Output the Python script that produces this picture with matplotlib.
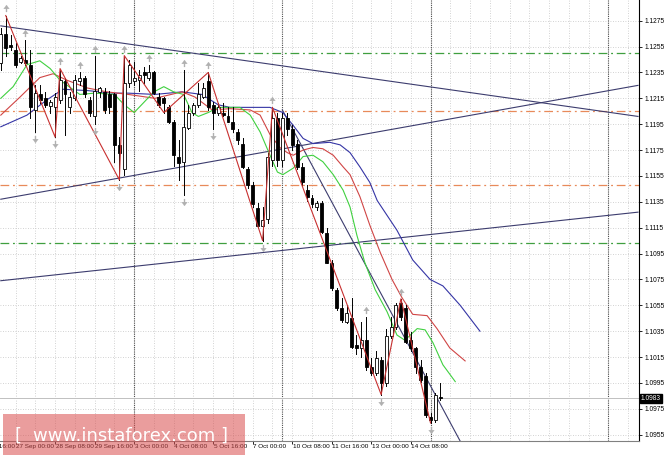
import matplotlib
matplotlib.use('Agg')
import matplotlib.pyplot as plt
from matplotlib.path import Path
from matplotlib.patches import Rectangle
from matplotlib.transforms import blended_transform_factory

# EURUSD H4 candles (bar 0 = leftmost visible bar)
opens = [1.1242, 1.1265, 1.1256, 1.1252, 1.1243, 1.1245, 1.1241, 1.1206, 1.1218, 1.1215,
         1.1209, 1.1208, 1.1214, 1.1228, 1.1208, 1.1215, 1.1228, 1.1231, 1.1214, 1.1201,
         1.1220, 1.1220, 1.1218, 1.1218, 1.1179, 1.1160, 1.1227, 1.1228, 1.1229, 1.1235,
         1.1231, 1.1235, 1.1216, 1.1215, 1.1208, 1.1197, 1.1170, 1.1166, 1.1192, 1.1204,
         1.1210, 1.1216, 1.1228, 1.1210, 1.1204, 1.1204, 1.1201, 1.1197, 1.1189, 1.1180,
         1.1160, 1.1148, 1.1130, 1.1116, 1.1122, 1.1167, 1.1200, 1.1167, 1.1200, 1.1191,
         1.1180, 1.1162, 1.1144, 1.1138, 1.1131, 1.1134, 1.1111, 1.1088, 1.1067, 1.1053,
         1.1042, 1.1045, 1.1024, 1.1022, 1.1028, 1.1007, 1.1003, 1.1013, 1.0995, 1.1031,
         1.1038, 1.1057, 1.1053, 1.1028, 1.1022, 1.1007, 1.1000, 1.0969, 1.0966, 1.0984]
highs = [1.1269, 1.1279, 1.1264, 1.1258, 1.1248, 1.1260, 1.1252, 1.1225, 1.1225, 1.1220,
         1.1214, 1.1219, 1.1238, 1.1231, 1.1220, 1.1233, 1.1235, 1.1232, 1.1216, 1.1248,
         1.1224, 1.1223, 1.1221, 1.1219, 1.1185, 1.1248, 1.1245, 1.1243, 1.1237, 1.1239,
         1.1241, 1.1236, 1.1219, 1.1216, 1.1210, 1.1198, 1.1183, 1.1237, 1.1210, 1.1211,
         1.1227, 1.1227, 1.1235, 1.1212, 1.1211, 1.1211, 1.1208, 1.1208, 1.1191, 1.1184,
         1.1162, 1.1150, 1.1134, 1.1131, 1.1173, 1.1208, 1.1204, 1.1204, 1.1204, 1.1194,
         1.1183, 1.1165, 1.1148, 1.1140, 1.1136, 1.1136, 1.1115, 1.1090, 1.1068, 1.1061,
         1.1055, 1.1061, 1.1032, 1.1042, 1.1046, 1.1014, 1.1020, 1.1015, 1.1037, 1.1046,
         1.1057, 1.1060, 1.1055, 1.1034, 1.1023, 1.1013, 1.1003, 1.0972, 1.0987, 1.0995]
lows = [1.1237, 1.1248, 1.1252, 1.1239, 1.1242, 1.1241, 1.1200, 1.1189, 1.1211, 1.1208,
        1.1204, 1.1185, 1.1211, 1.1187, 1.1204, 1.1214, 1.1225, 1.1216, 1.1201, 1.1195,
        1.1216, 1.1204, 1.1204, 1.1166, 1.1152, 1.1156, 1.1224, 1.1225, 1.1221, 1.1227,
        1.1229, 1.1218, 1.1208, 1.1204, 1.1196, 1.1163, 1.1152, 1.1140, 1.1191, 1.1202,
        1.1208, 1.1215, 1.1206, 1.1191, 1.1202, 1.1201, 1.1197, 1.1189, 1.1180, 1.1161,
        1.1146, 1.1131, 1.1115, 1.1105, 1.1119, 1.1163, 1.1163, 1.1163, 1.1187, 1.1175,
        1.1160, 1.1147, 1.1136, 1.1131, 1.1129, 1.1111, 1.1088, 1.1067, 1.1051, 1.1042,
        1.1041, 1.1022, 1.1017, 1.1015, 1.1005, 1.1001, 1.1001, 1.0986, 1.0993, 1.1030,
        1.1037, 1.1044, 1.1026, 1.1020, 1.1003, 1.0996, 1.0969, 1.0964, 1.0965, 1.0982]
closes = [1.1265, 1.1254, 1.1255, 1.1241, 1.1246, 1.1242, 1.1208, 1.1219, 1.1214, 1.1210,
          1.1212, 1.1216, 1.1229, 1.1218, 1.1216, 1.1229, 1.1231, 1.1218, 1.1204, 1.1221,
          1.1223, 1.1206, 1.1208, 1.1179, 1.1173, 1.1227, 1.1241, 1.1231, 1.1233, 1.1233,
          1.1235, 1.1219, 1.1210, 1.1211, 1.1197, 1.1171, 1.1165, 1.1193, 1.1204, 1.1210,
          1.1218, 1.1223, 1.1208, 1.1204, 1.1208, 1.1202, 1.1197, 1.1191, 1.1183, 1.1162,
          1.1148, 1.1133, 1.1116, 1.1121, 1.1170, 1.1200, 1.1167, 1.1200, 1.1191, 1.1179,
          1.1162, 1.1150, 1.1139, 1.1133, 1.1134, 1.1112, 1.1088, 1.1068, 1.1053, 1.1044,
          1.1049, 1.1023, 1.1022, 1.1028, 1.1007, 1.1003, 1.1014, 1.0995, 1.1031, 1.1038,
          1.1055, 1.1046, 1.1027, 1.1022, 1.1007, 1.0997, 1.0970, 1.0966, 1.0986, 1.0983]

# alligator lines (bar position, price)
lips_bar = [0, 2.5, 5.3, 7.9, 10, 12, 16, 19, 23, 25, 27, 29, 31, 33, 35, 37, 38.7, 40, 42, 44,
            46.4, 48.4, 50.5, 52.5, 54.5, 56, 57.1, 59.2, 61.2, 63.2, 65.2, 67.3, 69.3, 70.7,
            72.1, 73.7, 75.8, 78.2, 80.2, 81.8, 84.3, 85.9, 87.5, 89.5, 92]
lips_val = [1.1215, 1.1224, 1.1241, 1.1244, 1.1238, 1.1229, 1.1218, 1.1219, 1.1218, 1.1210,
            1.1204, 1.1212, 1.1220, 1.1224, 1.1220, 1.1218, 1.1204, 1.1201, 1.1204, 1.1208,
            1.1208, 1.1208, 1.1202, 1.1189, 1.1171, 1.1158, 1.1156, 1.1161, 1.1170, 1.1171,
            1.1166, 1.1156, 1.1144, 1.1131, 1.1109, 1.1088, 1.1067, 1.1050, 1.1032, 1.1028,
            1.1037, 1.1036, 1.1026, 1.1009, 1.0996]
teeth_bar = [0, 3.9, 7.9, 10.6, 13.4, 17.5, 21.5, 25.8, 31.2, 36.7, 39.3, 42.8, 46.4, 50.5,
             52.5, 54.5, 56.5, 58, 59.2, 61.2, 63.2, 65.2, 67.3, 69.3, 70.7, 72.7, 74.7, 76.8,
             79.2, 81.2, 83.4, 86.3, 88.3, 90.9, 94]
teeth_val = [1.1202, 1.1216, 1.1231, 1.1234, 1.1229, 1.1223, 1.1220, 1.1218, 1.1215, 1.1220,
             1.1216, 1.1206, 1.1207, 1.1206, 1.1202, 1.1187, 1.1177, 1.1173, 1.1171, 1.1175,
             1.1177, 1.1176, 1.1171, 1.1162, 1.1156, 1.1139, 1.1117, 1.1096, 1.1075, 1.1061,
             1.1048, 1.1047, 1.1037, 1.1022, 1.1012]
jaw_bar = [0, 5.3, 9.4, 12.6, 17.5, 22.7, 25.8, 31.2, 36.7, 40.7, 44, 46.4, 50.5, 54.5, 57.1,
           59.2, 61.2, 63.2, 66.6, 68.7, 70.7, 72.7, 74.7, 76.2, 80.2, 83.4, 86.9, 89.5, 93, 97]
jaw_val = [1.1193, 1.1202, 1.1214, 1.1222, 1.1221, 1.1219, 1.1219, 1.1218, 1.1220, 1.1218,
           1.1210, 1.1208, 1.1208, 1.1208, 1.1204, 1.1194, 1.1184, 1.1180, 1.1181, 1.1179,
           1.1173, 1.1162, 1.1150, 1.1136, 1.1113, 1.1090, 1.1075, 1.1070, 1.1055, 1.1035]

# zigzag turning bars (high, low, high, ...)
zigzag_bars = [1, 11, 12, 24, 25, 33, 42, 53, 55, 77, 81, 87]
fractal_up = [1, 5, 12, 16, 19, 25, 30, 37, 42, 55, 74, 81]
fractal_dn = [7, 11, 19, 24, 37, 43, 53, 77, 87]

# trend lines: (bar, price) -> (bar, price)
trend_lines = [((0, 1.1271), (129, 1.1201)),
               ((0, 1.1137), (129, 1.1225)),
               ((0, 1.1074), (129, 1.1127)),
               ((57, 1.1206), (93, 1.0950))]
levels = [1.1250, 1.12055, 1.1148, 1.1103]
level_colors = ['#3f9f3f', '#e88a5a', '#e88a5a', '#3f9f3f']

price_ticks = [1.0955, 1.0975, 1.0995, 1.1015, 1.1035, 1.1055, 1.1075, 1.1095, 1.1115,
               1.1135, 1.1155, 1.1175, 1.1195, 1.1215, 1.1235, 1.1255, 1.1275]
time_labels = ['23 Sep 16:00', '27 Sep 00:00', '28 Sep 08:00', '29 Sep 16:00', '3 Oct 00:00',
               '4 Oct 08:00', '5 Oct 16:00', '7 Oct 00:00', '10 Oct 08:00', '11 Oct 16:00',
               '13 Oct 00:00', '14 Oct 08:00']
time_label_bars = [-5, 3, 11, 19, 27, 35, 43, 51, 59, 67, 75, 83]
week_bars = [27, 57, 87, 123]
last_price = 1.0983

small_font = 'Liberation Sans'

fig = plt.figure(figsize=(6.65, 4.57), dpi=100)
ax = fig.add_axes([0, 16 / 457, 639 / 665, 441 / 457])
ax.set_xlim(-0.16, 129.2)
ax.set_ylim(1.09501, 1.12910)

# grid
dots = (0, (1, 2))
for p in price_ticks:
    ax.axhline(p, color='#c4c4c4', lw=0.6, ls=dots, zorder=0)
for b in range(-1, 131, 4):
    ax.axvline(b, color='#c4c4c4', lw=0.6, ls=dots, zorder=0)
for b in week_bars:
    ax.axvline(b, color='#505050', lw=0.8, ls=(0, (1, 1)), zorder=1)

# horizontal levels
for p, c in zip(levels, level_colors):
    ax.axhline(p, color=c, lw=0.9, ls=(0, (7, 3, 1.5, 3)), zorder=1)
ax.axhline(last_price, color='#c0c0c0', lw=0.7, zorder=1)

# trend lines
for (b0, p0), (b1, p1) in trend_lines:
    ax.plot([b0, b1], [p0, p1], color='#3c3c6e', lw=0.8, zorder=2)

# alligator
ax.plot(jaw_bar, jaw_val, color='#3535a5', lw=0.8, zorder=3)
ax.plot(teeth_bar, teeth_val, color='#d04545', lw=0.8, zorder=3)
ax.plot(lips_bar, lips_val, color='#40d040', lw=0.8, zorder=3)

# candles
for i in range(len(opens)):
    o, h, l, c = opens[i], highs[i], lows[i], closes[i]
    ax.plot([i, i], [l, h], color='black', lw=0.7, zorder=4)
    bottom = min(o, c)
    height = max(abs(c - o), 0.00004)
    face = 'white' if c > o else 'black'
    ax.add_patch(Rectangle((i - 0.3, bottom), 0.6, height, facecolor=face,
                           edgecolor='black', lw=0.6, zorder=5))

# zigzag
zz_p = []
for k, b in enumerate(zigzag_bars):
    zz_p.append(highs[b] if k % 2 == 0 else lows[b])
ax.plot(zigzag_bars, zz_p, color='#c83030', lw=0.8, zorder=6)

# fractals
up_arrow = Path([(0, 1), (0.8, -0.1), (0.15, -0.1), (0.15, -1), (-0.15, -1),
                 (-0.15, -0.1), (-0.8, -0.1), (0, 1)])
dn_arrow = Path([(x, -y) for x, y in up_arrow.vertices])
ax.plot(fractal_up, [highs[b] + 0.00055 for b in fractal_up], ls='none',
        marker=up_arrow, ms=5, mfc='#b0b0b0', mec='#b0b0b0', mew=0.2, zorder=7)
ax.plot(fractal_dn, [lows[b] - 0.00055 for b in fractal_dn], ls='none',
        marker=dn_arrow, ms=5, mfc='#b0b0b0', mec='#b0b0b0', mew=0.2, zorder=7)

# axes
for s in ['left', 'top']:
    ax.spines[s].set_visible(False)
ax.spines['right'].set_color('black')
ax.spines['right'].set_linewidth(0.8)
ax.spines['bottom'].set_color('#808080')
ax.spines['bottom'].set_linewidth(0.8)
ax.yaxis.tick_right()
ax.set_yticks(price_ticks)
ax.set_yticklabels(['%.4f' % p for p in price_ticks], family=small_font)
ax.tick_params(axis='y', direction='out', length=2.5, width=0.6, pad=1.5, labelsize=4.8)
ax.set_xticks(time_label_bars[1:])
ax.set_xticklabels([])
ax.tick_params(axis='x', direction='out', length=2, width=0.6)
tr = blended_transform_factory(ax.transData, ax.transAxes)
for b, t in zip(time_label_bars, time_labels):
    ax.text(b + 0.1, -0.006, t, transform=tr, fontsize=4.6, family=small_font,
            ha='left', va='top', clip_on=False)

# current price tag
tr2 = blended_transform_factory(ax.transAxes, ax.transData)
ax.text(1.003, last_price, '%.4f' % last_price, transform=tr2, fontsize=4.8, color='white',
        family=small_font, ha='left', va='center',
        bbox=dict(facecolor='black', edgecolor='black', pad=0.8))

# watermark
fig.patches.append(Rectangle((3 / 665, 2 / 457), 242 / 665, 41 / 457, transform=fig.transFigure,
                             facecolor=(0.85, 0.3, 0.3), alpha=0.55, edgecolor='none', zorder=5))
fig.text(15 / 665, 16 / 457, '[', color='white', fontsize=13, ha='left', va='baseline', zorder=6)
fig.text(33 / 665, 16 / 457, 'www.instaforex.com ]', color='white', fontsize=13,
         ha='left', va='baseline', zorder=6)

fig.savefig('out.png', dpi=100)
